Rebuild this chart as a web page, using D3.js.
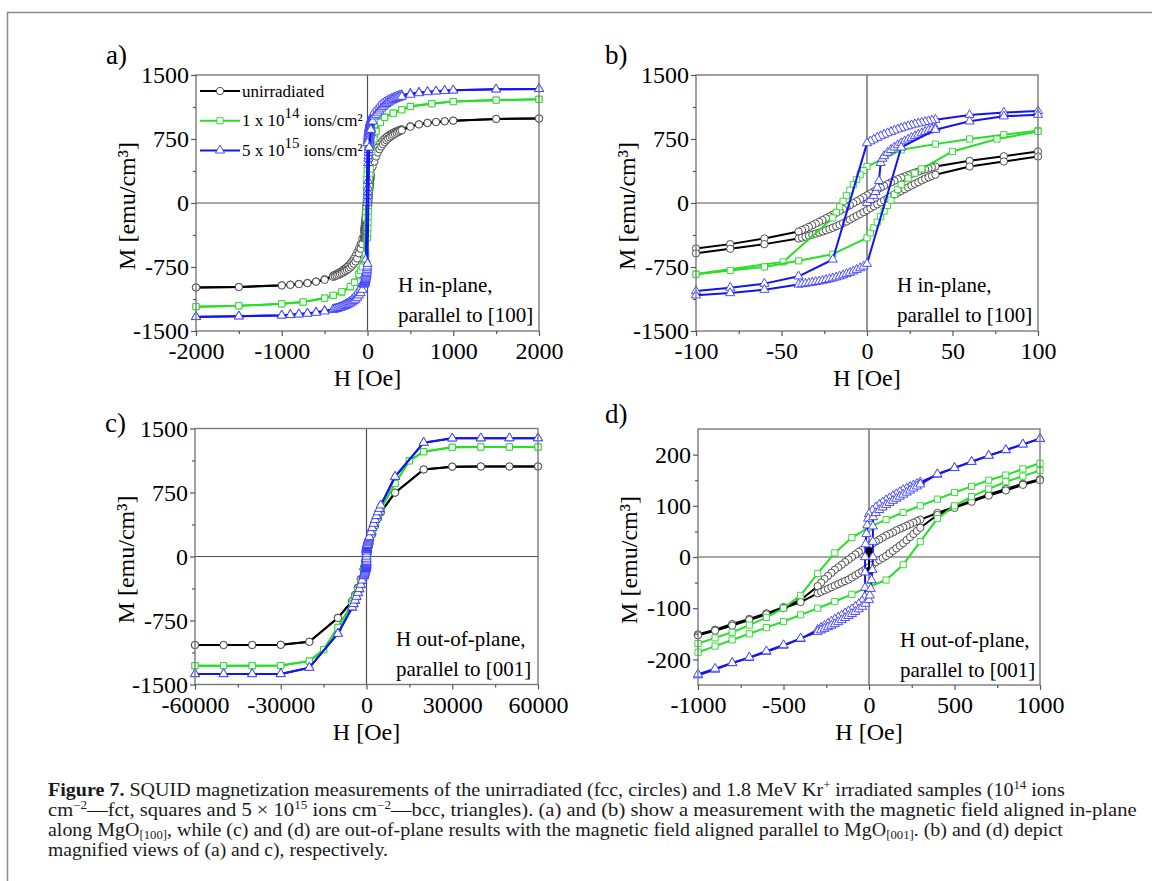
<!DOCTYPE html>
<html><head><meta charset="utf-8">
<script src="https://cdn.jsdelivr.net/npm/d3@7"></script>
<style>
body{margin:0;background:#fff}
svg{display:block}
text{font-family:"Liberation Serif","Times New Roman",serif}
</style>
</head><body>
<svg id="chart" width="1152" height="881"></svg>
<script>
// ---------------- DATA: in-plane loops (panels a, b) [H (Oe), M (emu/cm3)] ----------------
const ipBlackDesc = [[2000,990],[1500,985],[1000,965],[900,958],[800,950],[700,938],[600,922],[500,900],[400,865],
[380,858],[360,850],[340,842],[320,833],[300,823],[280,812],[260,800],[240,787],[220,772],[200,755],[180,735],[160,712],[140,685],[120,650],[100,604],[80,548],[60,494],
[40,427],[38,417],[36,406],[34,394],[32,382],[30,369],[28,355],[26,341],[24,327],[22,312],[20,296],[18,279],[16,261],[14,242],[12,222],[10,201],[8,180],[6,158],[4,136],[2,113],[0,90],[-2,67],[-4,44],[-6,21],[-8,-2],[-10,-25],[-12,-48],[-14,-71],[-16,-93],[-18,-115],[-20,-137],[-22,-158],[-24,-179],[-26,-200],[-28,-221],[-30,-241],[-32,-261],[-34,-280],[-36,-299],[-38,-317],[-40,-335],
[-60,-416],[-80,-482],[-100,-533],[-120,-580],[-140,-620],[-160,-655],[-180,-685],[-200,-710],[-220,-732],[-240,-751],[-260,-768],[-280,-783],[-300,-797],[-320,-809],[-340,-821],[-360,-832],[-380,-842],[-400,-851],[-500,-893],[-600,-920],[-700,-937],[-800,-948],[-900,-957],[-1000,-964],[-1500,-984],[-2000,-990]];
const ipBlackAsc = [[-2000,-990],[-1500,-985],[-1000,-966],[-900,-959],[-800,-951],[-700,-939],[-600,-923],[-500,-901],[-400,-866],
[-380,-858],[-360,-850],[-340,-842],[-320,-833],[-300,-823],[-280,-812],[-260,-800],[-240,-787],[-220,-772],[-200,-755],[-180,-735],[-160,-712],[-140,-685],[-120,-650],[-100,-590],[-80,-537],[-60,-482],
[-40,-416],[-38,-406],[-36,-395],[-34,-384],[-32,-372],[-30,-360],[-28,-347],[-26,-334],[-24,-320],[-22,-305],[-20,-290],[-18,-273],[-16,-255],[-14,-236],[-12,-216],[-10,-195],[-8,-173],[-6,-151],[-4,-129],[-2,-107],[0,-84],[2,-61],[4,-38],[6,-15],[8,8],[10,31],[12,54],[14,77],[16,99],[18,120],[20,141],[22,162],[24,183],[26,204],[28,225],[30,245],[32,265],[34,284],[36,302],[38,318],[40,332],
[60,427],[80,486],[100,545],[120,592],[140,630],[160,662],[180,690],[200,714],[220,735],[240,754],[260,770],[280,785],[300,798],[320,810],[340,822],[360,833],[380,843],[400,852],[500,894],[600,921],[700,938],[800,949],[900,958],[1000,965],[1500,985],[2000,990]];

const ipGreenDesc = [[2000,1215],[1500,1206],[1000,1190],[750,1165],[500,1133],[400,1095],[300,1055],[200,1008],[150,955],[100,847],[80,800],[60,750],[40,690],[20,623],[0,427],
[-2,380],[-4,330],[-6,275],[-8,215],[-10,150],[-12,85],[-14,20],[-16,-45],[-18,-110],[-20,-175],[-49,-690],[-100,-832],[-150,-928],[-200,-982],[-300,-1045],[-400,-1084],[-500,-1114],[-750,-1161],[-1000,-1182],[-1500,-1205],[-2000,-1215]];
const ipGreenAsc = [[-2000,-1215],[-1500,-1205],[-1000,-1182],[-750,-1160],[-500,-1115],[-400,-1082],[-300,-1040],[-200,-980],[-150,-930],[-100,-835],[-80,-790],[-60,-749],[-40,-678],[-20,-600],[0,-408],
[2,-350],[4,-290],[6,-225],[8,-160],[10,-95],[12,-30],[14,35],[16,100],[18,160],[20,215],[24,290],[28,350],[32,400],[50,604],[76,749],[100,839],[150,945],[200,1003],[300,1052],[400,1092],[500,1130],[750,1163],[1000,1188],[1500,1205],[2000,1215]];

const ipBlueVirgin = [[0,0],[2,38],[4,85],[5,130],[6,180],[7,260],[8,470],[9,520],[10,550],[12,590],[14,622],[16,652],[18,678],[20,702],[22,724],[24,745],[26,765],[28,784],[30,802],[32,819],[34,835],[36,850],[38,864],[40,878]];
const ipBlueDesc = [[2000,1337],[1500,1333],[1000,1321],[900,1317],[800,1311],[700,1304],[600,1296],[500,1284],[400,1266],
[380,1261],[360,1256],[340,1249],[320,1240],[300,1230],[280,1222],[260,1213],[240,1203],[220,1192],[200,1180],[180,1166],[160,1150],[140,1132],[120,1105],[100,1078],[80,1060],[60,1032],
[40,976],[38,968],[36,960],[34,951],[32,942],[30,933],[28,923],[26,912],[24,901],[22,889],[20,877],[18,864],[16,850],[14,835],[12,819],[10,802],[8,784],[6,765],[4,745],[2,724],[0,702],
[-20,-662],[-40,-859],[-60,-945],[-80,-992],[-100,-1032],[-120,-1065],[-140,-1092],[-160,-1115],[-180,-1135],[-200,-1152],[-220,-1167],[-240,-1180],[-260,-1192],[-280,-1203],[-300,-1213],[-320,-1221],[-340,-1228],[-360,-1234],[-380,-1239],[-400,-1244],[-500,-1262],[-600,-1280],[-700,-1292],[-800,-1302],[-900,-1309],[-1000,-1315],[-1500,-1326],[-2000,-1333]];
const ipBlueAsc = [[-2000,-1335],[-1500,-1328],[-1000,-1318],[-900,-1312],[-800,-1305],[-700,-1296],[-600,-1285],[-500,-1270],[-400,-1250],
[-380,-1245],[-360,-1240],[-340,-1234],[-320,-1228],[-300,-1221],[-280,-1213],[-260,-1205],[-240,-1196],[-220,-1186],[-200,-1175],[-180,-1162],[-160,-1148],[-140,-1132],[-120,-1110],[-100,-1082],[-80,-1055],[-60,-1016],
[-40,-955],[-38,-950],[-36,-944],[-34,-938],[-32,-932],[-30,-925],[-28,-918],[-26,-910],[-24,-901],[-22,-892],[-20,-882],[-18,-871],[-16,-859],[-14,-846],[-12,-832],[-10,-817],[-8,-800],[-6,-782],[-4,-763],[-2,-743],[0,-712],
[20,651],[40,859],[60,957],[80,1016],[100,1035],[120,1060],[140,1085],[160,1108],[180,1128],[200,1146],[220,1162],[240,1176],[260,1189],[280,1200],[300,1210],[320,1218],[340,1226],[360,1233],[380,1240],[400,1246],[500,1270],[600,1288],[700,1300],[800,1308],[900,1315],[1000,1320],[1500,1332],[2000,1337]];

// ---------------- DATA: out-of-plane loops (panels c, d) ----------------
const oopBlackDesc = [[60000,1055],[50000,1055],[40000,1055],[30000,1053],[20000,1020],[10000,748],[5000,520],[4000,450],[3000,365],[2000,265],[1000,152],[900,143],[800,133],[700,122],[600,110],[500,98],[400,86],
[300,73],[280,70],[260,67],[240,64],[220,61],[200,58],[180,55],[160,52],[140,48],[120,45],[100,42],[80,38],[60,34],[40,30],[20,26],[0,22],[-20,18],[-40,14],[-60,10],[-80,5],[-100,0],[-120,-5],[-140,-10],[-160,-15],[-180,-20],[-200,-25],[-220,-31],[-240,-37],[-260,-43],[-280,-50],[-300,-57],
[-400,-84],[-500,-98],[-600,-110],[-700,-121],[-800,-131],[-900,-142],[-1000,-151],[-2000,-265],[-3000,-365],[-4000,-450],[-5000,-520],[-10000,-717],[-20000,-999],[-30000,-1035],[-40000,-1037],[-50000,-1037],[-60000,-1037]];
const oopBlackAsc = [[-60000,-1037],[-50000,-1037],[-40000,-1037],[-30000,-1035],[-20000,-1000],[-10000,-720],[-5000,-522],[-4000,-452],[-3000,-367],[-2000,-267],[-1000,-153],[-900,-144],[-800,-134],[-700,-123],[-600,-112],[-500,-100],[-400,-88],
[-300,-71],[-280,-68],[-260,-65],[-240,-62],[-220,-59],[-200,-56],[-180,-53],[-160,-50],[-140,-47],[-120,-44],[-100,-40],[-80,-36],[-60,-32],[-40,-28],[-20,-24],[0,-20],[20,-15],[40,-10],[60,-6],[80,-2],[100,2],[120,7],[140,12],[160,17],[180,22],[200,27],[220,33],[240,39],[260,45],[280,51],[300,57],
[400,82],[500,96],[600,108],[700,120],[800,130],[900,141],[1000,150],[2000,263],[3000,363],[4000,448],[5000,518],[10000,748],[20000,1020],[30000,1053],[40000,1055],[50000,1055],[60000,1055]];
const oopBlackZero = [[0,12],[0,-27]];

const oopGreenDesc = [[60000,1283],[50000,1283],[40000,1283],[30000,1280],[20000,1229],[15000,1123],[10000,858],[5000,560],[4000,480],[3000,400],[2000,300],[1000,183],[900,172],[800,160],[700,150],[600,138],[500,126],[400,113],[300,100],[200,87],[100,73],[0,58],[-100,38],[-200,8],[-300,-32],[-400,-75],[-500,-100],[-600,-118],[-700,-133],[-800,-147],[-900,-158],[-1000,-169],[-2000,-298],[-3000,-392],[-4000,-472],[-5000,-552],[-10000,-830],[-15000,-1090],[-20000,-1225],[-30000,-1278],[-40000,-1280],[-50000,-1280],[-60000,-1280]];
const oopGreenAsc = [[-60000,-1280],[-50000,-1280],[-40000,-1280],[-30000,-1278],[-20000,-1226],[-15000,-1092],[-10000,-832],[-5000,-556],[-4000,-476],[-3000,-396],[-2000,-302],[-1000,-186],[-900,-174],[-800,-162],[-700,-150],[-600,-138],[-500,-126],[-400,-113],[-300,-100],[-200,-87],[-100,-73],[0,-58],[100,-45],[200,-15],[300,30],[400,75],[500,100],[600,118],[700,133],[800,147],[900,158],[1000,169],[2000,296],[3000,398],[4000,478],[5000,558],[10000,856],[15000,1120],[20000,1228],[30000,1280],[40000,1283],[50000,1283],[60000,1283]];

const oopBlueDesc = [[60000,1387],[50000,1387],[40000,1386],[30000,1385],[20000,1334],[10000,935],[5000,600],[4500,560],[4000,520],[3500,475],[3000,430],[2500,385],[2000,335],[1500,285],[1000,231],[900,220],[800,209],[700,198],[600,186],[500,174],[400,161],
[300,146],[280,143],[260,140],[240,137],[220,134],[200,131],[180,127],[160,123],[140,119],[120,115],[100,111],[80,107],[60,102],[40,97],[20,91],[0,84],[-5,75],[-10,62],[-15,45],[-20,25],[-23,0],[-23,-30],[-23,-60],[-25,-78],
[-40,-86],[-60,-92],[-80,-97],[-100,-102],[-120,-106],[-140,-110],[-160,-114],[-180,-118],[-200,-122],[-220,-126],[-240,-130],[-260,-134],[-280,-138],[-300,-142],
[-400,-160],[-500,-173],[-600,-185],[-700,-197],[-800,-207],[-900,-220],[-1000,-231],[-1500,-285],[-2000,-335],[-2500,-385],[-3000,-430],[-3500,-475],[-4000,-520],[-4500,-560],[-5000,-600],[-10000,-900],[-20000,-1303],[-30000,-1377],[-40000,-1377],[-50000,-1377],[-60000,-1377]];
const oopBlueAsc = [[-60000,-1377],[-50000,-1377],[-40000,-1377],[-30000,-1376],[-20000,-1303],[-10000,-905],[-5000,-595],[-4500,-555],[-4000,-515],[-3500,-470],[-3000,-425],[-2500,-380],[-2000,-330],[-1500,-280],[-1000,-229],[-900,-218],[-800,-207],[-700,-196],[-600,-184],[-500,-172],[-400,-159],
[-300,-146],[-280,-143],[-260,-140],[-240,-137],[-220,-134],[-200,-131],[-180,-127],[-160,-123],[-140,-119],[-120,-115],[-100,-111],[-80,-107],[-60,-102],[-40,-97],[-20,-91],[0,-84],[5,-75],[10,-62],[15,-45],[20,-25],[23,0],[23,30],[23,60],[25,78],
[40,86],[60,92],[80,97],[100,102],[120,106],[140,110],[160,114],[180,118],[200,122],[220,126],[240,130],[260,134],[280,138],[300,142],
[400,162],[500,174],[600,186],[700,198],[800,209],[900,220],[1000,231],[1500,285],[2000,335],[2500,385],[3000,430],[3500,475],[4000,520],[4500,560],[5000,600],[10000,935],[20000,1334],[30000,1385],[40000,1386],[50000,1387],[60000,1387]];

// ---------------- ticks ----------------
const ticksHa = [-2000,-1000,0,1000,2000], minorHa = [-1500,-500,500,1500];
const ticksHb = [-100,-50,0,50,100], minorHb = [-75,-25,25,75];
const ticksHc = [-60000,-30000,0,30000,60000], minorHc = [-45000,-15000,15000,45000];
const ticksHd = [-1000,-500,0,500,1000], minorHd = [-750,-250,250,750];
const ticksM = [-1500,-750,0,750,1500], minorM = [-1125,-375,375,1125];
const ticksMd = [-200,-100,0,100,200], minorMd = [-150,-50,50,150];

const legendLabels = [
  {key:'black', parts:[{t:'unirradiated'}]},
  {key:'green', parts:[{t:'1 x 10'},{t:'14',sup:true},{t:' ions/cm²'}]},
  {key:'blue',  parts:[{t:'5 x 10'},{t:'15',sup:true},{t:' ions/cm²'}]}
];

// ---------------- rendering ----------------
const FONT = '"Liberation Serif","Times New Roman",serif';
const svg = d3.select('#chart');
const styles = {
  black: {line:'#000000', stroke:'#3c3c3c', shape:d3.symbolCircle, size:42},
  green: {line:'#25e025', stroke:'#22d822', shape:d3.symbolSquare, size:38},
  blue:  {line:'#1414f2', stroke:'#3838ff', shape:d3.symbolTriangle, size:36}
};
const inPlane = [
  {key:'black', segs:[ipBlackDesc, ipBlackAsc]},
  {key:'green', segs:[ipGreenDesc, ipGreenAsc]},
  {key:'blue',  segs:[ipBlueVirgin, ipBlueDesc, ipBlueAsc]}
];
const outPlane = [
  {key:'black', segs:[oopBlackDesc, oopBlackAsc]},
  {key:'black', segs:[oopBlackZero], filled:true},
  {key:'green', segs:[oopGreenDesc, oopGreenAsc]},
  {key:'blue',  segs:[oopBlueDesc, oopBlueAsc]}
];

// outer frame
svg.append('path').attr('d','M7.5,881 V12.5 H1152').attr('fill','none').attr('stroke','#8a8a8a').attr('stroke-width',1.5);

const panels = [
  {id:'a', label:'a)', lx:106, ly:64, x0:196, x1:539, y0:75, y1:331, xDom:[-2000,2000], yDom:[-1500,1500],
   xT:ticksHa, xm:minorHa, yT:ticksM, ym:minorM, data:inPlane, note:['H in-plane,','parallel to [100]'], nx:398, ny:292, legend:true},
  {id:'b', label:'b)', lx:605, ly:64, x0:696, x1:1038, y0:75, y1:331, xDom:[-100,100], yDom:[-1500,1500],
   xT:ticksHb, xm:minorHb, yT:ticksM, ym:minorM, data:inPlane, note:['H in-plane,','parallel to [100]'], nx:897, ny:292},
  {id:'c', label:'c)', lx:105, ly:432, x0:195, x1:538, y0:428.5, y1:684.5, xDom:[-60000,60000], yDom:[-1500,1500],
   xT:ticksHc, xm:minorHc, yT:ticksM, ym:minorM, data:outPlane, note:['H out-of-plane,','parallel to [001]'], nx:396, ny:646},
  {id:'d', label:'d)', lx:605, ly:423, x0:698, x1:1040, y0:429, y1:685, xDom:[-1000,1000], yDom:[-250,250],
   xT:ticksHd, xm:minorHd, yT:ticksMd, ym:minorMd, data:outPlane, note:['H out-of-plane,','parallel to [001]'], nx:900, ny:647}
];

function marker(g, key, px, py, filled){
  const s = styles[key];
  g.append('path')
    .attr('d', d3.symbol().type(s.shape).size(s.size)())
    .attr('transform', `translate(${px},${py})`)
    .attr('fill', filled ? '#000' : '#fff')
    .attr('stroke', filled ? '#000' : s.stroke)
    .attr('stroke-width', 0.9);
}

panels.forEach(p => {
  const x = d3.scaleLinear().domain(p.xDom).range([p.x0, p.x1]);
  const y = d3.scaleLinear().domain(p.yDom).range([p.y1, p.y0]);
  const g = svg.append('g');
  const clipId = 'clip-' + p.id;
  g.append('clipPath').attr('id', clipId).append('rect')
    .attr('x', p.x0).attr('y', p.y0).attr('width', p.x1 - p.x0).attr('height', p.y1 - p.y0);

  // zero lines
  g.append('line').attr('x1', x(0)).attr('x2', x(0)).attr('y1', p.y0).attr('y2', p.y1).attr('stroke','#505050').attr('stroke-width',1.2);
  g.append('line').attr('x1', p.x0).attr('x2', p.x1).attr('y1', y(0)).attr('y2', y(0)).attr('stroke','#505050').attr('stroke-width',1.2);

  const line = d3.line().x(d => x(d[0])).y(d => y(d[1]));
  const inside = d => d[0] >= p.xDom[0] && d[0] <= p.xDom[1] && d[1] >= p.yDom[0] && d[1] <= p.yDom[1];
  p.data.forEach(ser => {
    const s = styles[ser.key];
    const sg = g.append('g');
    ser.segs.forEach(seg => {
      sg.append('path').attr('d', line(seg)).attr('fill','none')
        .attr('stroke', s.line).attr('stroke-width', 2).attr('stroke-linejoin','round')
        .attr('clip-path', `url(#${clipId})`);
      seg.filter(inside).forEach(d => marker(sg, ser.key, x(d[0]), y(d[1]), ser.filled));
    });
  });

  // frame
  g.append('rect').attr('x', p.x0).attr('y', p.y0).attr('width', p.x1 - p.x0).attr('height', p.y1 - p.y0)
    .attr('fill','none').attr('stroke','#7a7a7a').attr('stroke-width',1.4);

  // axes
  const fmt = d => String(d);
  const gx = g.append('g').attr('transform', `translate(0,${p.y1})`)
    .call(d3.axisBottom(x).tickValues(p.xT).tickSize(5).tickSizeOuter(0).tickPadding(6).tickFormat(fmt));
  const gxm = g.append('g').attr('transform', `translate(0,${p.y1})`)
    .call(d3.axisBottom(x).tickValues(p.xm).tickSize(3).tickSizeOuter(0).tickFormat(''));
  const gy = g.append('g').attr('transform', `translate(${p.x0},0)`)
    .call(d3.axisLeft(y).tickValues(p.yT).tickSize(5).tickSizeOuter(0).tickPadding(2).tickFormat(fmt));
  const gym = g.append('g').attr('transform', `translate(${p.x0},0)`)
    .call(d3.axisLeft(y).tickValues(p.ym).tickSize(3).tickSizeOuter(0).tickFormat(''));
  [gx, gxm, gy, gym].forEach(a => {
    a.select('.domain').remove();
    a.attr('font-size', 24).attr('font-family', FONT);
    a.selectAll('line').attr('stroke', '#555').attr('stroke-width', 1.2);
    a.selectAll('text').attr('fill', '#000');
  });

  // axis titles
  g.append('text').attr('x', (p.x0 + p.x1) / 2).attr('y', p.y1 + 55).attr('text-anchor','middle')
    .attr('font-size', 24).text('H [Oe]');
  g.append('text').attr('transform', `translate(${p.x0 - 61},${(p.y0 + p.y1) / 2 + 3}) rotate(-90)`)
    .attr('text-anchor','middle').attr('font-size', 24).text('M [emu/cm³]');

  // panel label
  g.append('text').attr('x', p.lx).attr('y', p.ly).attr('font-size', 27).text(p.label);

  // annotation
  p.note.forEach((t, i) => g.append('text').attr('x', p.nx).attr('y', p.ny + i * 30).attr('font-size', 21).text(t));

  // legend
  if (p.legend) {
    legendLabels.forEach((L, i) => {
      const ly = 91 + i * 29.7;
      const s = styles[L.key];
      g.append('line').attr('x1', 200).attr('x2', 240).attr('y1', ly).attr('y2', ly).attr('stroke', s.line).attr('stroke-width', 2);
      marker(g, L.key, 220, ly, false);
      const t = g.append('text').attr('x', 242).attr('y', ly + 5.5).attr('font-size', 17);
      let shift = 0;
      L.parts.forEach(pt => {
        const ts = t.append('tspan').text(pt.t);
        if (pt.sup) { ts.attr('font-size', 15).attr('dy', -8); shift = 8; }
        else if (shift) { ts.attr('dy', shift); shift = 0; }
      });
    });
  }
});

// ---------------- caption ----------------
const captionLines = [
  [{t:'Figure 7.', b:true},{t:' SQUID magnetization measurements of the unirradiated (fcc, circles) and 1.8 MeV Kr'},{t:'+',sup:true},{t:' irradiated samples (10'},{t:'14',sup:true},{t:' ions'}],
  [{t:'cm'},{t:'−2',sup:true},{t:'—fct, squares and 5 × 10'},{t:'15',sup:true},{t:' ions cm'},{t:'−2',sup:true},{t:'—bcc, triangles). (a) and (b) show a measurement with the magnetic field aligned in-plane'}],
  [{t:'along MgO'},{t:'[100]',sub:true},{t:', while (c) and (d) are out-of-plane results with the magnetic field aligned parallel to MgO'},{t:'[001]',sub:true},{t:'. (b) and (d) depict'}],
  [{t:'magnified views of (a) and c), respectively.'}]
];
const capX = 48, capBase = [796, 816, 836, 856], capEnd = [1065, 1137, 1063, 388];
const cap = svg.append('g');
captionLines.forEach((parts, i) => {
  const t = cap.append('text').attr('x', 0).attr('y', 0).attr('font-size', 18).attr('fill', '#1a1a1a');
  let off = 0;
  parts.forEach(pt => {
    const ts = t.append('tspan').text(pt.t);
    let target = 0;
    if (pt.sup) { ts.attr('font-size', 11.5); target = -7; }
    if (pt.sub) { ts.attr('font-size', 11.5); target = 3; }
    if (pt.b) ts.attr('font-weight', 'bold');
    if (target !== off) { ts.attr('dy', target - off); off = target; }
  });
  const w = t.node().getComputedTextLength();
  const sx = (capEnd[i] - capX) / w;
  t.attr('transform', `translate(${capX},${capBase[i]}) scale(${sx},1)`);
});
</script>
</body></html>
